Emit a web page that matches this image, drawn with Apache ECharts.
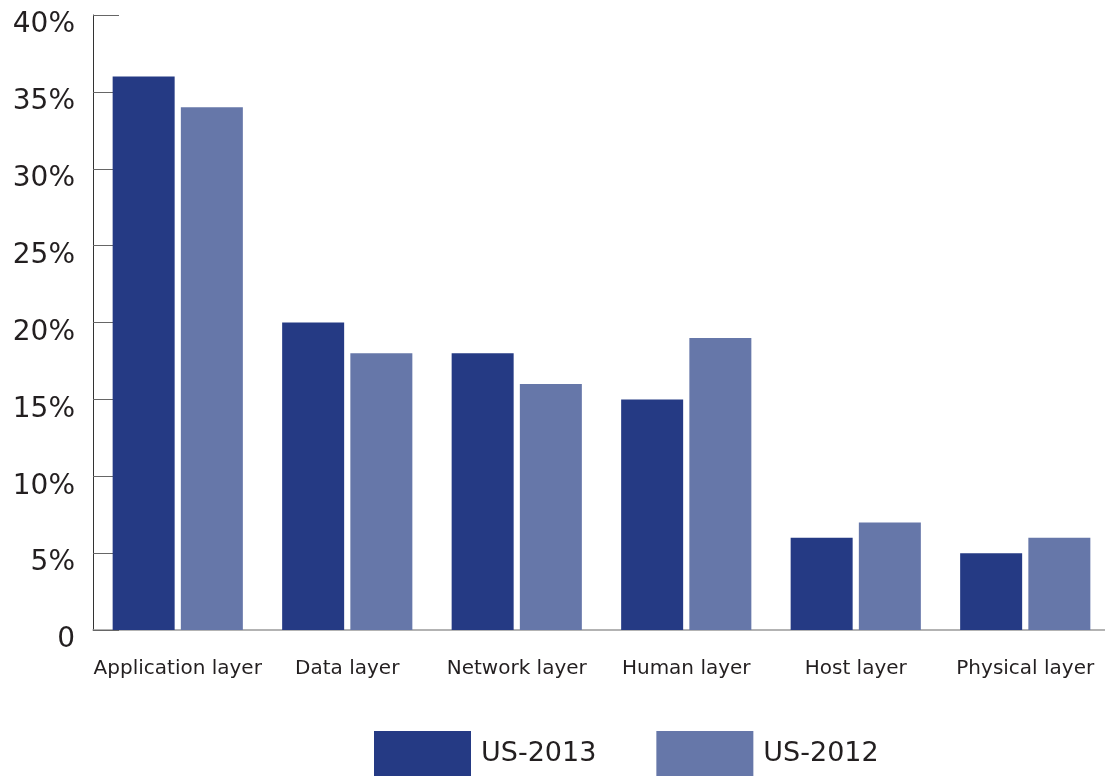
<!DOCTYPE html>
<html>
<head>
<meta charset="utf-8">
<script src="https://cdn.jsdelivr.net/npm/echarts@6/dist/echarts.min.js"></script>
<style>
  html, body { margin: 0; padding: 0; background: #fff; overflow: hidden; }
  #chart { width: 1112px; height: 778px; }
</style>
</head>
<body>
<div id="chart"></div>
<script>
// Share of attacks by layer, two survey years
const categories = ['Application layer', 'Data layer', 'Network layer', 'Human layer', 'Host layer', 'Physical layer'];
const us2013 = [36, 20, 18, 15, 6, 5];
const us2012 = [34, 18, 16, 19, 7, 6];
const seriesNames = ['US-2013', 'US-2012'];

const textColor = '#231f20';
const fontFamily = '"DejaVu Sans", sans-serif';

const chart = echarts.init(document.getElementById('chart'));
chart.setOption({
  animation: false,
  grid: { left: 93, right: 2, top: 15, bottom: 148, containLabel: false },
  legend: {
    left: 374,
    top: 731,
    padding: 0,
    itemWidth: 97,
    itemHeight: 45,
    itemGap: 60,
    icon: 'rect',
    textStyle: { fontSize: 27, color: textColor, fontFamily: fontFamily, padding: [0, 0, 0, 5] },
    data: seriesNames
  },
  xAxis: {
    type: 'category',
    data: categories,
    axisLine: { lineStyle: { color: '#9a9a9a', width: 1.5 } },
    axisTick: { inside: true, length: 15, lineStyle: { color: '#555', width: 1 } },
    axisLabel: { interval: 0, fontSize: 20, color: textColor, fontFamily: fontFamily, margin: 29 }
  },
  yAxis: {
    type: 'value',
    min: 0,
    max: 40,
    interval: 5,
    splitLine: { show: false },
    axisLine: { show: true, lineStyle: { color: '#333', width: 1 } },
    axisTick: { show: true, inside: true, length: 26, lineStyle: { color: '#666', width: 1 } },
    axisLabel: {
      fontSize: 28,
      color: textColor,
      fontFamily: fontFamily,
      margin: 18,
      verticalAlign: 'top',
      lineHeight: 20,
      formatter: v => v === 0 ? '0' : v + '%'
    }
  },
  series: [
    {
      name: seriesNames[0],
      type: 'bar',
      data: us2013,
      barWidth: 62,
      barGap: '10%',
      itemStyle: { color: '#253a84' }
    },
    {
      name: seriesNames[1],
      type: 'bar',
      data: us2012,
      barWidth: 62,
      itemStyle: { color: '#6677a9' }
    }
  ]
});
</script>
</body>
</html>
